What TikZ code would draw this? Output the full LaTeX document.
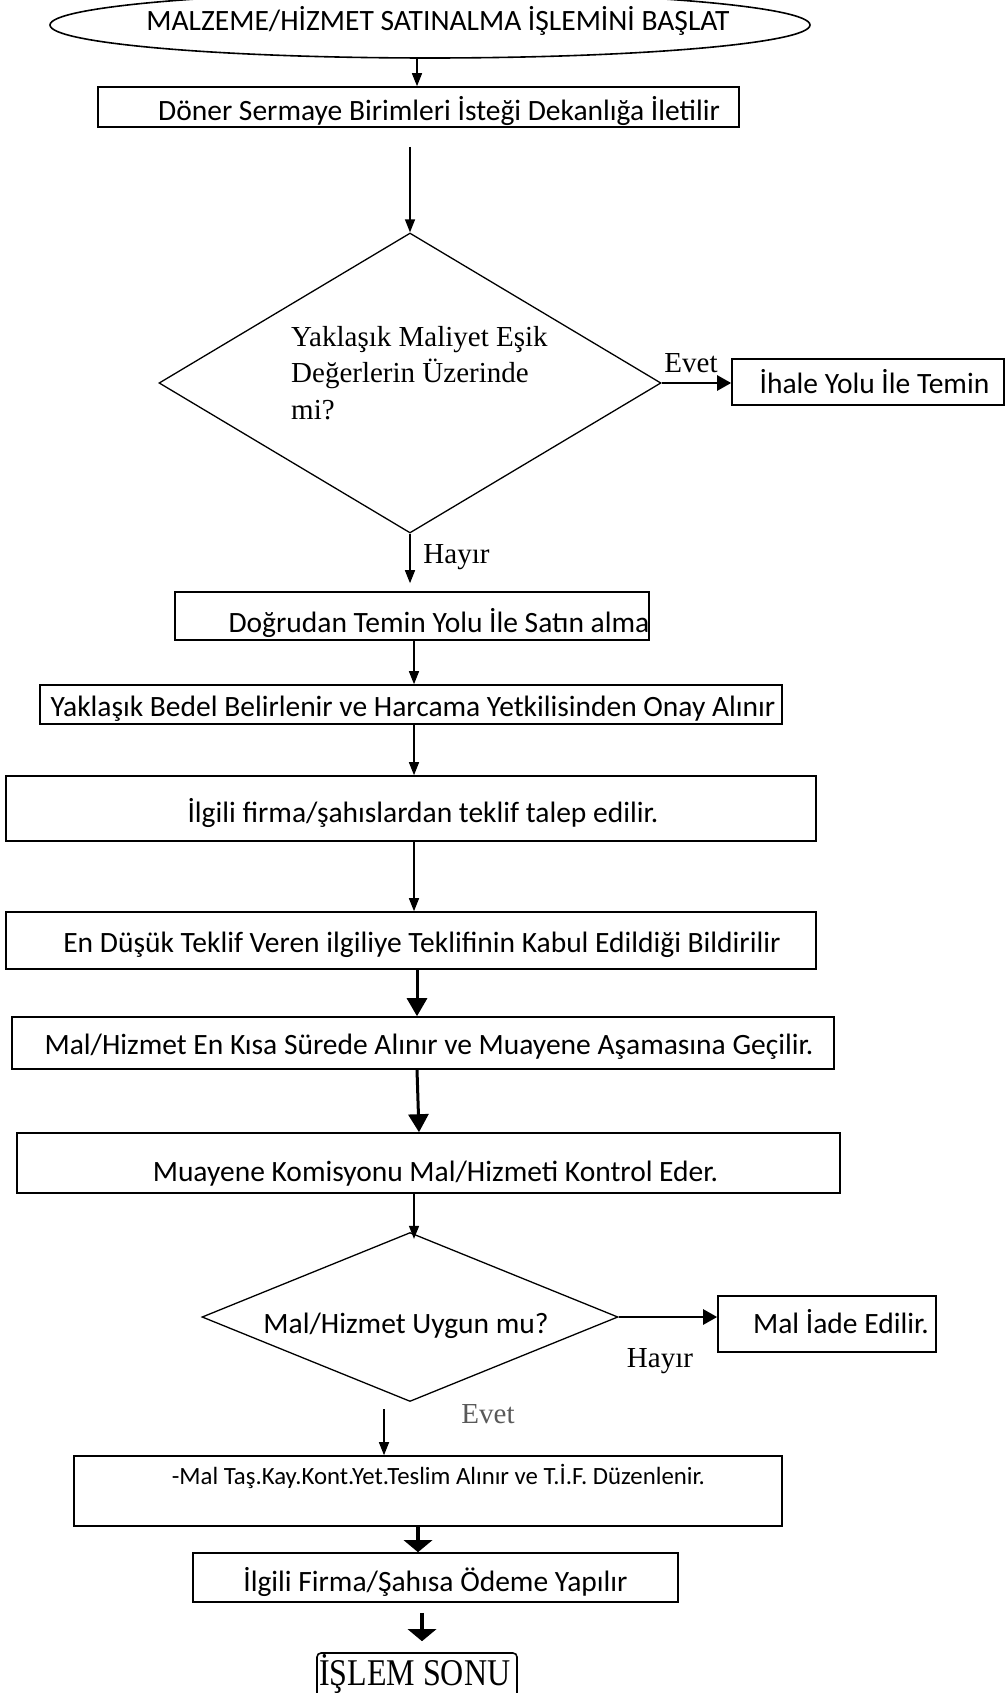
\documentclass[tikz,border=0pt]{standalone}
\usepackage{fontspec}
\usepackage{graphicx}
\setmainfont{Carlito}
\newfontfamily\tms{Liberation Serif}
\usetikzlibrary{shapes.geometric,arrows.meta}
\begin{document}
\begin{tikzpicture}[x=1pt,y=-1pt,
  box/.style={draw, line width=1.6pt, inner sep=0pt},
  dia/.style={draw, diamond, line width=1.3pt, inner sep=0pt},
  lbl/.style={inner sep=0pt, font=\fontsize{29.5}{35}\selectfont, text height=0.65em, text depth=0pt, yshift=-7pt},
  small/.style={inner sep=0pt, font=\fontsize{24.8}{29}\selectfont, text height=0.65em, text depth=0pt, yshift=-7pt},
  tlbl/.style={inner sep=0pt, font=\tms\fontsize{29}{36.5}\selectfont, text height=0.66em, text depth=0pt, yshift=-7pt},
  tblock/.style={inner sep=0pt, font=\tms\fontsize{29}{36.5}\selectfont, align=left},
  thin/.style={line width=1.5pt, -{Triangle[length=13pt,width=10pt]}},
  side/.style={line width=2.5pt, -{Triangle[length=14pt,width=15pt]}},
  bold/.style={line width=3pt, -{Triangle[length=18pt,width=20pt]}},
  flat/.style={line width=3.5pt, -{Triangle[length=12pt,width=28pt]}},
]
\useasboundingbox (0,0) rectangle (1006,1693);
\fill[white] (0,0) rectangle (1006,1693);
\clip (0,0) rectangle (1006,1693);

% start terminal
\node[draw, ellipse, line width=1.6pt, inner sep=0pt, minimum width=760, minimum height=66] (start) at (430,25) {};
\node[lbl] (startT) at (438,20) {MALZEME/HİZMET SATINALMA İŞLEMİNİ BAŞLAT};

% request forwarded
\node[box, minimum width=641, minimum height=40] (b1) at (418.5,107) {};
\node[lbl] (b1T) at (439,110) {Döner Sermaye Birimleri İsteği Dekanlığa İletilir};

% threshold decision
\node[dia, minimum width=502, minimum height=300] (d1) at (410,383) {};
\node[tblock, anchor=west] (d1T) at (291,373) {Yaklaşık Maliyet Eşik\\Değerlerin Üzerinde\\mi?};
\node[tlbl] (evet1) at (691,362) {Evet};
\node[tlbl] (hayir1) at (456.5,553) {Hayır};

\node[box, minimum width=272, minimum height=46] (ihale) at (868,382) {};
\node[lbl] (ihaleT) at (874.5,383) {İhale Yolu İle Temin};

% direct procurement chain
\node[box, minimum width=474, minimum height=48] (dog) at (412,616) {};
\node[lbl] (dogT) at (439,622) {Doğrudan Temin Yolu İle Satın alma};

\node[box, minimum width=742, minimum height=39] (bedel) at (411,704.5) {};
\node[lbl] (bedelT) at (413,706) {Yaklaşık Bedel Belirlenir ve Harcama Yetkilisinden Onay Alınır};

\node[box, minimum width=810, minimum height=65] (firma) at (411,808.5) {};
\node[lbl] (firmaT) at (423,812) {İlgili firma/şahıslardan teklif talep edilir.};

\node[box, minimum width=810, minimum height=57] (endusuk) at (411,940.5) {};
\node[lbl] (endusukT) at (422,942) {En Düşük Teklif Veren ilgiliye Teklifinin Kabul Edildiği Bildirilir};

\node[box, minimum width=822, minimum height=52] (kisa) at (423,1043) {};
\node[lbl] (kisaT) at (429,1044) {Mal/Hizmet En Kısa Sürede Alınır ve Muayene Aşamasına Geçilir.};

\node[box, minimum width=823, minimum height=60] (muayene) at (428.5,1163) {};
\node[lbl] (muayeneT) at (435.5,1171) {Muayene Komisyonu Mal/Hizmeti Kontrol Eder.};

% inspection decision
\node[dia, minimum width=416, minimum height=169] (d2) at (410,1317) {};
\node[lbl] (d2T) at (406,1323) {Mal/Hizmet Uygun mu?};
\node[tlbl] (hayir2) at (660,1357) {Hayır};
\node[tlbl, text=black!65] (evet2) at (488,1413) {Evet};

\node[box, minimum width=218, minimum height=56] (iade) at (827,1324) {};
\node[lbl] (iadeT) at (841,1323) {Mal İade Edilir.};

% delivery, payment, end
\node[box, minimum width=708, minimum height=70] (tas) at (428,1491) {};
\node[small] (tasT) at (438.5,1474) {-Mal Taş.Kay.Kont.Yet.Teslim Alınır ve T.İ.F. Düzenlenir.};

\node[box, minimum width=485, minimum height=49] (odeme) at (435.5,1577.5) {};
\node[lbl] (odemeT) at (435.5,1581) {İlgili Firma/Şahısa Ödeme Yapılır};

\node[box, rounded corners=4pt, minimum width=200, minimum height=60] (son) at (417,1683) {};
\node[inner sep=0pt, anchor=base west, font=\tms\fontsize{32}{36}\selectfont] (sonT) at (319,1685) {\scalebox{1}[1.18]{İŞLEM SONU}};

% connectors
\draw[thin] ([xshift=-13pt]start.south) -- ([xshift=-1.5pt]b1.north);
\draw[thin, shorten <=19pt] ([xshift=-8.5pt]b1.south) -- (d1.north);
\draw[side] (d1.east) -- (d1.east -| ihale.west);
\draw[thin, shorten >=8pt] (d1.south) -- ([xshift=-2pt]dog.north);
\draw[thin] ([xshift=2pt]dog.south) -- ([xshift=3pt]bedel.north);
\draw[thin] ([xshift=3pt]bedel.south) -- ([xshift=3pt]firma.north);
\draw[thin] ([xshift=3pt]firma.south) -- ([xshift=3pt]endusuk.north);
\draw[bold] ([xshift=6pt]endusuk.south) -- ([xshift=-6pt]kisa.north);
\draw[bold] ([xshift=-6pt]kisa.south) -- ([xshift=-9.5pt]muayene.north);
\draw[thin, shorten >=-7pt] ([xshift=-14.5pt]muayene.south) -- ([xshift=4pt]d2.north);
\draw[side] (d2.east) -- (d2.east -| iade.west);
\coordinate (evetStart) at (384,1409);
\draw[thin] (evetStart) -- (evetStart |- tas.north);
\draw[flat] ([xshift=-10pt]tas.south) -- ([xshift=-17.5pt]odeme.north);
\draw[flat, shorten <=10pt, shorten >=11pt] ([xshift=-13.5pt]odeme.south) -- ([xshift=5pt]son.north);
\end{tikzpicture}
\end{document}
